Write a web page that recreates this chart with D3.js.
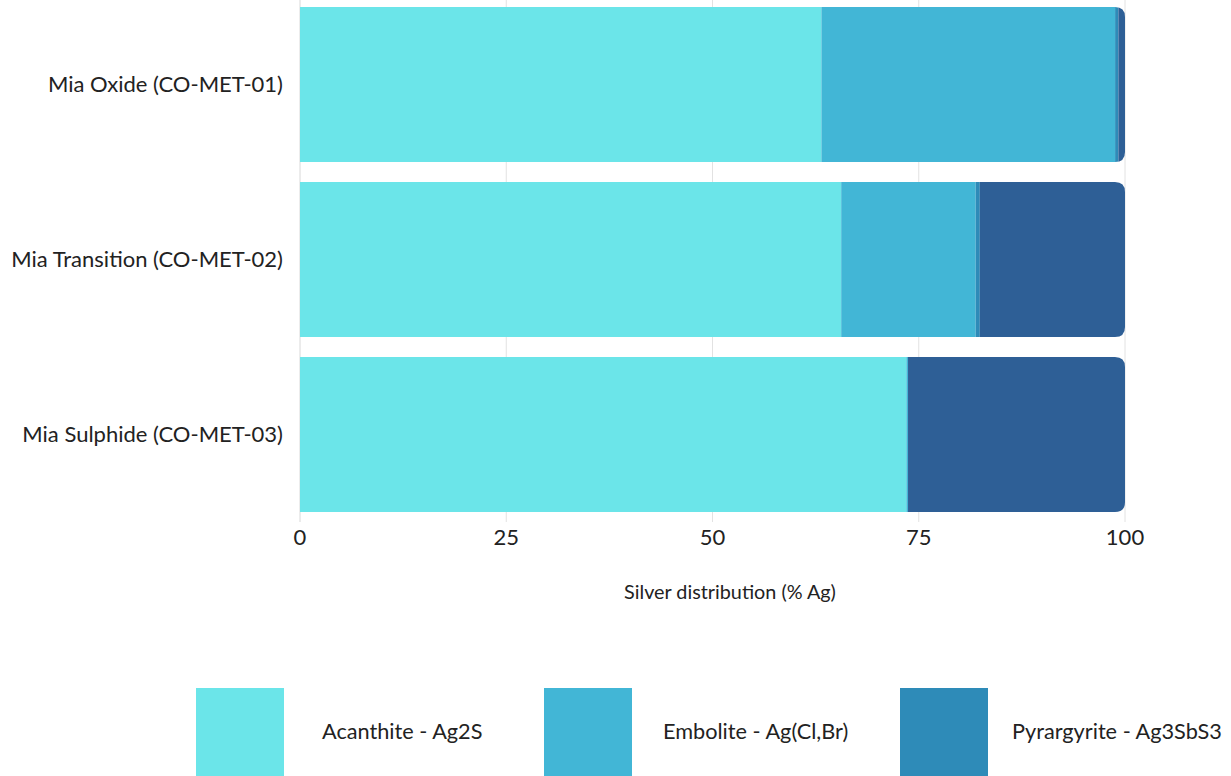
<!DOCTYPE html>
<html><head><meta charset="utf-8">
<script src="https://cdn.jsdelivr.net/npm/d3@7"></script>
<style>body{margin:0;background:#fff;}svg{display:block;font-family:Lato,"Open Sans",sans-serif;}</style>
</head><body><svg id="c" width="1231" height="776"></svg>
<script>
const categories = ["Mia Oxide (CO-MET-01)", "Mia Transition (CO-MET-02)", "Mia Sulphide (CO-MET-03)"];
const seriesNames = ["Acanthite - Ag2S", "Embolite - Ag(Cl,Br)", "Pyrargyrite - Ag3SbS3", "Other"];
const acanthite = [63.2, 65.6, 73.5];
const embolite = [35.6, 16.3, 0.2];
const pyrargyrite = [0.4, 0.5, 0.0];
const other = [0.8, 17.6, 26.3];
const xTicks = [0, 25, 50, 75, 100];
const colors = ["#6be5e9", "#42b6d6", "#2e8bb8", "#2e5f96"];
const legendItems = [0, 1, 2];

const svg = d3.select("#c");
const x = d3.scaleLinear().domain([0, 100]).range([300, 1125]);
const y = d3.scaleBand().domain(categories).range([-3, 522]).paddingInner(20/175).paddingOuter(10/175);

const rows = categories.map((c, i) => ({cat: c, s0: acanthite[i], s1: embolite[i], s2: pyrargyrite[i], s3: other[i]}));
const stack = d3.stack().keys(["s0", "s1", "s2", "s3"])(rows);

// gridlines
svg.append("g").selectAll("line").data(xTicks).join("line")
  .attr("x1", d => x(d)).attr("x2", d => x(d)).attr("y1", 0).attr("y2", 522)
  .attr("stroke", d => d === 0 ? "#d8d8d8" : "#e2e2e2").attr("stroke-width", 1);

// clip paths with rounded right end
const defs = svg.append("defs");
const r = 10;
categories.forEach((c, i) => {
  const total = acanthite[i] + embolite[i] + pyrargyrite[i] + other[i];
  const x0 = x(0), x1 = x(total), y0 = y(c), h = y.bandwidth();
  const p = `M${x0},${y0}H${x1 - r}Q${x1},${y0} ${x1},${y0 + r}V${y0 + h - r}Q${x1},${y0 + h} ${x1 - r},${y0 + h}H${x0}Z`;
  defs.append("clipPath").attr("id", "clip" + i).append("path").attr("d", p);
});

const gBars = svg.append("g");
categories.forEach((c, i) => {
  const g = gBars.append("g").attr("clip-path", `url(#clip${i})`);
  stack.forEach((s, k) => {
    const d = s[i];
    if (d[1] - d[0] <= 0) return;
    g.append("rect").attr("x", x(d[0])).attr("width", x(d[1]) - x(d[0]))
      .attr("y", y(c)).attr("height", y.bandwidth()).attr("fill", colors[k]);
  });
});

// x tick labels
svg.append("g").selectAll("text").data(xTicks).join("text")
  .attr("x", d => x(d)).attr("y", 545).attr("text-anchor", "middle")
  .attr("font-size", 22).attr("fill", "#222").text(d => d);

svg.append("text").attr("x", 730).attr("y", 599).attr("text-anchor", "middle")
  .attr("font-size", 19.8).attr("fill", "#222").text("Silver distribution (% Ag)");

// category labels
svg.append("g").selectAll("text").data(categories).join("text")
  .attr("x", 283).attr("y", d => y(d) + y.bandwidth() / 2 + 7.5).attr("text-anchor", "end")
  .attr("font-size", 22).attr("fill", "#222").text(d => d);

// legend
const legX = [196, 544, 900];
const legTextX = [322, 663, 1012];
const lg = svg.append("g").selectAll("g").data(legendItems).join("g");
lg.append("rect").attr("x", (d, i) => legX[i]).attr("y", 688).attr("width", 88).attr("height", 90)
  .attr("fill", d => colors[d]);
lg.append("text").attr("x", (d, i) => legTextX[i]).attr("y", 739)
  .attr("font-size", 21.7).attr("fill", "#222").text(d => seriesNames[d]);
</script></body></html>
